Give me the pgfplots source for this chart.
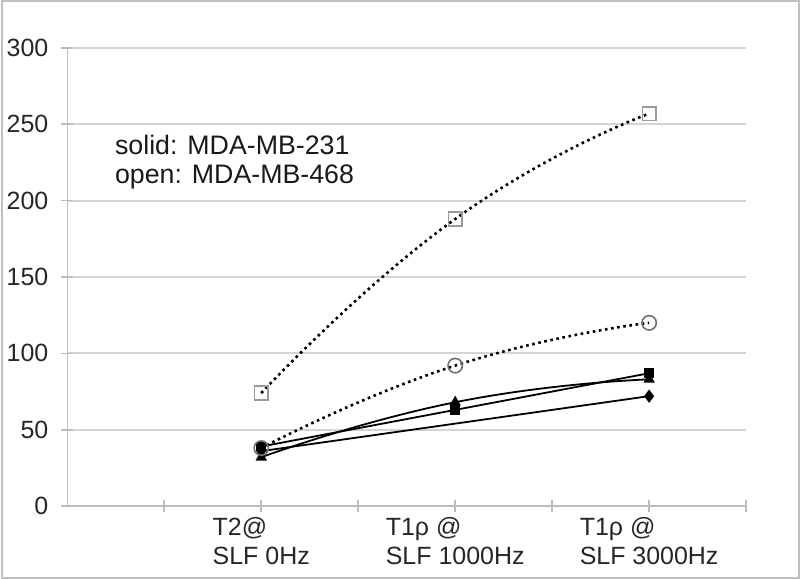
\documentclass[border=0pt]{standalone}
\usepackage{fontspec}
\setmainfont{Liberation Sans}
\usepackage{pgfplots}
\pgfplotsset{compat=1.18}
\definecolor{gridc}{HTML}{D4D4D4}
\definecolor{axc}{HTML}{BDBDBD}
\definecolor{opensq}{HTML}{9A9A9A}
\definecolor{opencirc}{HTML}{707070}
\begin{document}
\begin{tikzpicture}
\begin{axis}[
  scale only axis,
  width=340pt, height=229.5pt,
  xmin=0, xmax=3.5, ymin=0, ymax=300,
  axis lines*=left,
  axis line style={axc, line width=0.8pt},
  xtick={0.5,1,1.5,2,2.5,3,3.5},
  xticklabels={,{T2@\\SLF 0Hz},,{T1ρ @\\SLF 1000Hz},,{T1ρ @\\SLF 3000Hz},},
  ytick={0,50,...,300},
  tick align=center,
  major tick length=6pt,
  tick style={axc, line width=0.8pt},
  ymajorgrids,
  grid style={gridc, line width=0.9pt},
  /pgf/number format/assume math mode=true,
  tick label style={font=\fontsize{12.5}{14.5}\selectfont, text=black!85},
  xticklabel style={align=left, yshift=1pt},
  yticklabel style={xshift=-3pt},
  clip=false,
]
% solid: MDA-MB-231
\addplot[black, line width=0.9pt, smooth, tension=0.9, mark=diamond*, mark size=2.6pt, mark options={solid}]
  coordinates {(1,36) (3,72)};
\addplot[black, line width=0.9pt, smooth, tension=0.9, mark=triangle*, mark size=2.4pt, mark options={solid}]
  coordinates {(1,32) (2,68) (3,83)};
\addplot[black, line width=0.9pt, smooth, tension=0.9, mark=square*, mark size=2pt, mark options={solid}]
  coordinates {(1,39) (2,63) (3,87)};
% open: MDA-MB-468
\addplot[black, line width=1.3pt, smooth, tension=0.9, dash pattern=on 1.3pt off 1.8pt,
  mark=o, mark size=3.6pt, mark options={solid, opencirc, line width=0.8pt}]
  coordinates {(1,38) (2,92) (3,120)};
\addplot[black, line width=1.3pt, smooth, tension=0.9, dash pattern=on 1.3pt off 1.8pt,
  mark=square, mark size=3.4pt, mark options={solid, opensq, line width=0.8pt}]
  coordinates {(1,74) (2,188) (3,257)};
\node[anchor=west, align=left, font=\fontsize{13.4}{14.5}\selectfont, text=black!90]
  at (axis cs:0.21,225) {solid: MDA-MB-231\\open: MDA-MB-468};
\end{axis}
\draw[black!25, line width=1pt]
  ([xshift=-32.5pt,yshift=-36pt]current axis.south west)
  rectangle ([xshift=26.5pt,yshift=23.5pt]current axis.north east);
\end{tikzpicture}
\end{document}
